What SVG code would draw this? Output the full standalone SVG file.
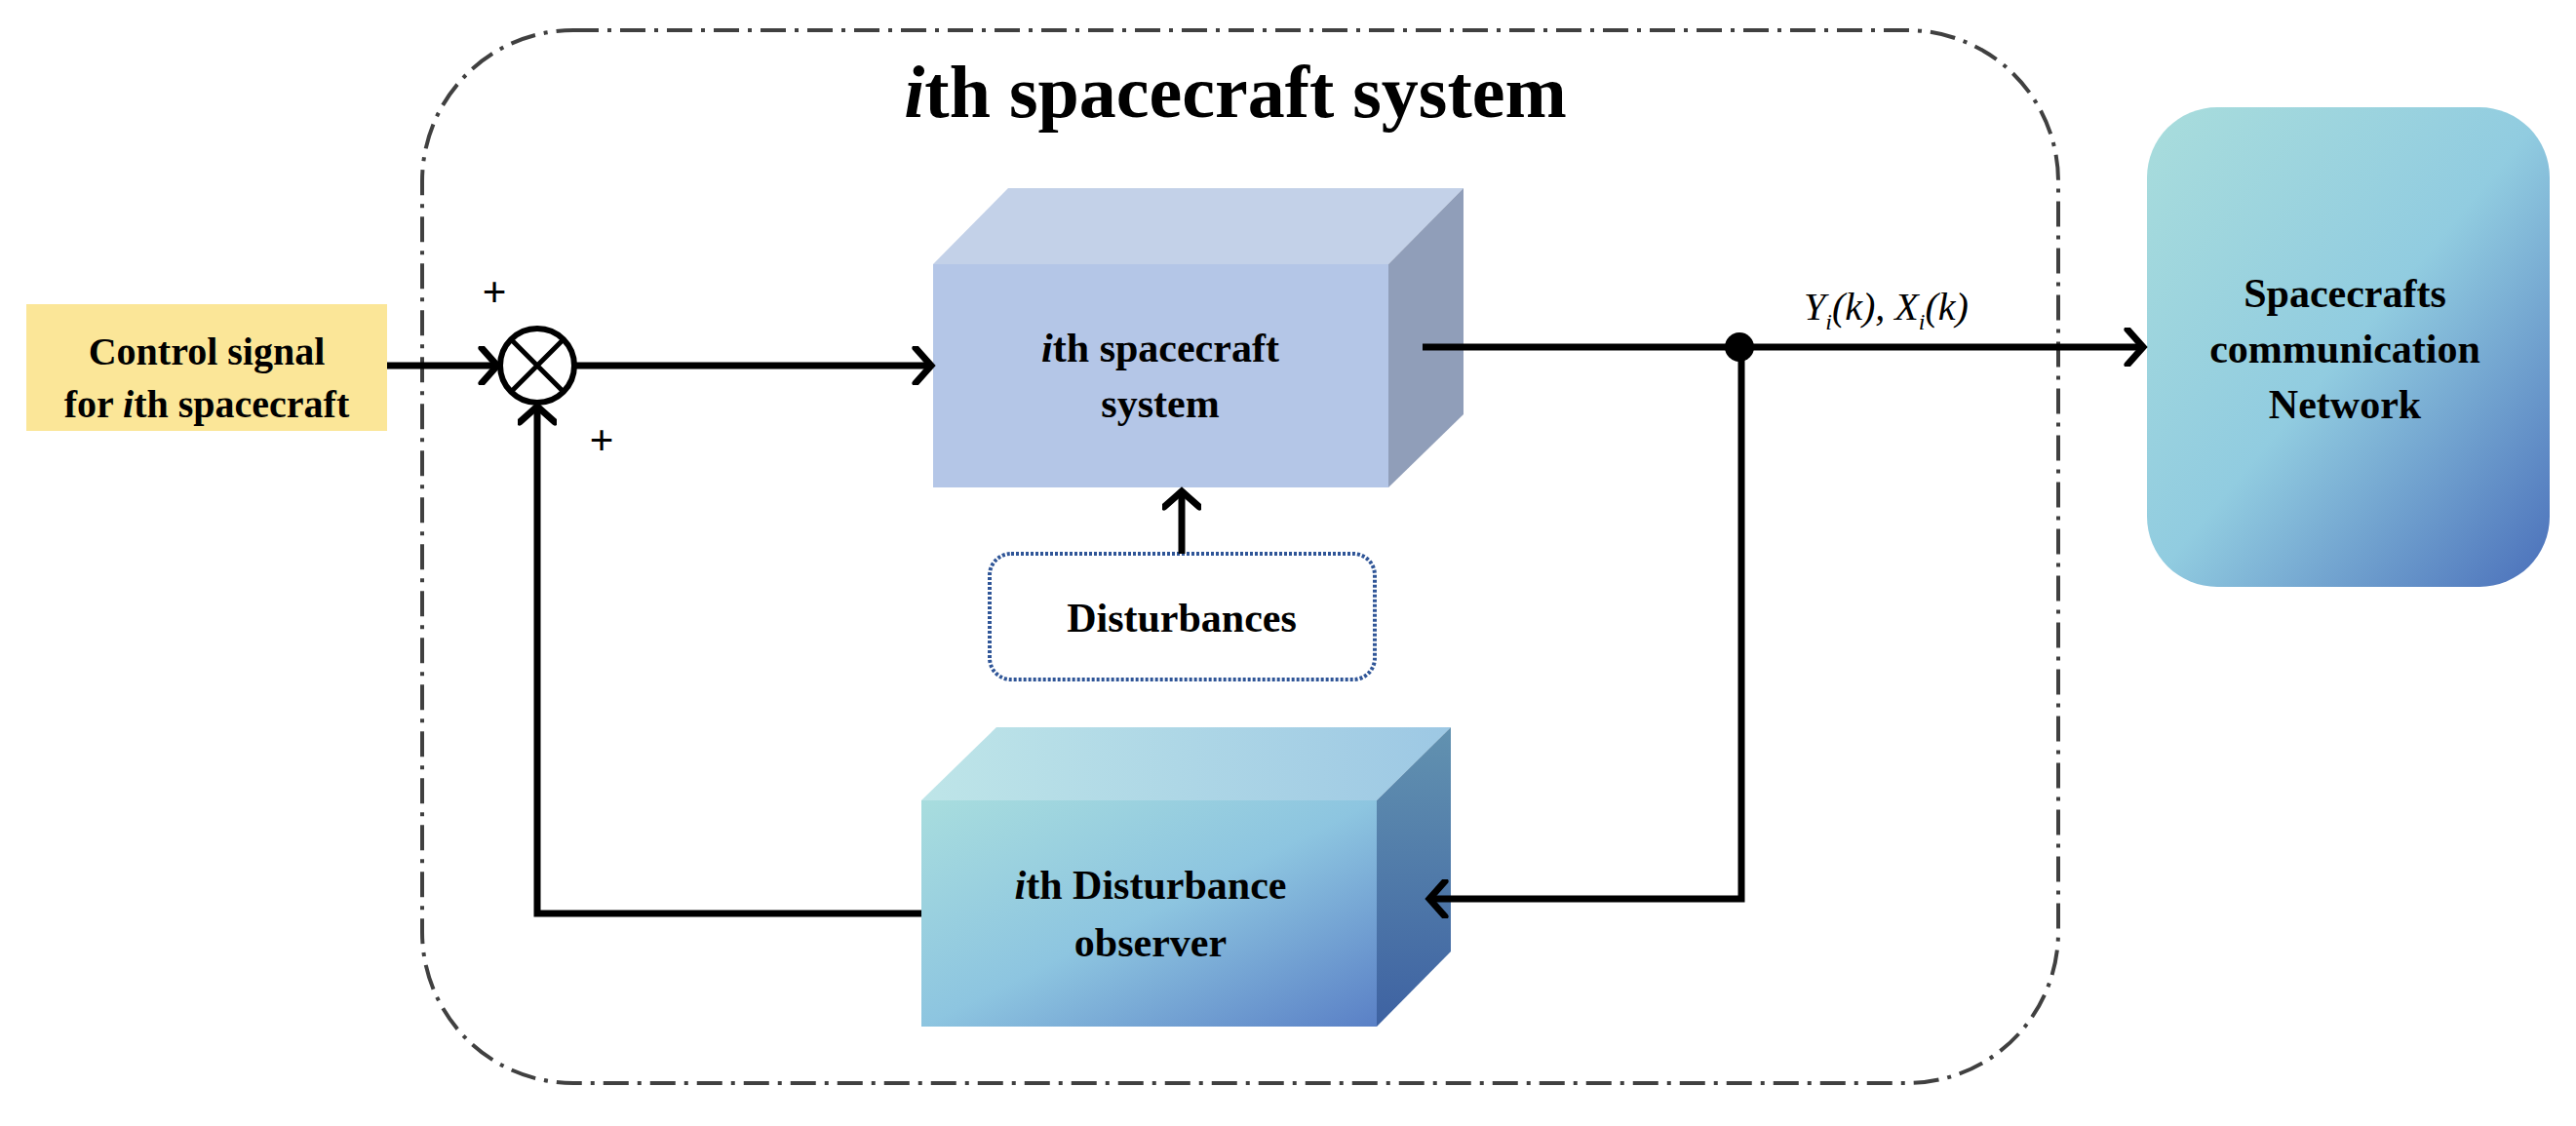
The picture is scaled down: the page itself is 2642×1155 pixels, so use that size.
<svg xmlns="http://www.w3.org/2000/svg" width="2642" height="1155" viewBox="0 0 2642 1155">
<style>
.t{font-family:"Liberation Serif","Times New Roman",serif;font-weight:bold;fill:#000;text-anchor:middle}
.ln{fill:none;stroke:#000;stroke-width:7}
</style>
<defs>
<marker id="ah" markerUnits="userSpaceOnUse" markerWidth="40" markerHeight="40" viewBox="-30 -20 40 40" refX="0" refY="0" orient="auto">
<path d="M-16,-18 L0,0 L-16,18" fill="none" stroke="#000" stroke-width="7" stroke-linecap="round"/>
</marker>
<linearGradient id="gNet" x1="0" y1="0" x2="1" y2="1">
<stop offset="0" stop-color="#A9DDDC"/><stop offset="0.5" stop-color="#91CCE0"/><stop offset="1" stop-color="#4A6FBA"/>
</linearGradient>
<linearGradient id="gObsF" x1="0" y1="0" x2="1" y2="1">
<stop offset="0" stop-color="#A8DDDE"/><stop offset="0.5" stop-color="#8DC5E0"/><stop offset="1" stop-color="#5A80C6"/>
</linearGradient>
<linearGradient id="gObsT" x1="0" y1="0" x2="1" y2="0">
<stop offset="0" stop-color="#BEE5E8"/><stop offset="1" stop-color="#9DC8E4"/>
</linearGradient>
<linearGradient id="gObsS" x1="0" y1="0" x2="0" y2="1">
<stop offset="0" stop-color="#6292B0"/><stop offset="1" stop-color="#3E62A2"/>
</linearGradient>
</defs>

<g id="boundary">
<rect x="433" y="31" width="1678" height="1080" rx="155" ry="155" fill="none" stroke="#404040" stroke-width="4" stroke-dasharray="26 9 4 9"/>
<text class="t" x="1267" y="120" font-size="76"><tspan font-style="italic">i</tspan>th spacecraft system</text>
</g>

<g id="control">
<rect x="27" y="312" width="370" height="130" fill="#FBE698"/>
<text class="t" x="212" y="374" font-size="40">Control signal</text>
<text class="t" x="212" y="428" font-size="40">for <tspan font-style="italic">i</tspan>th spacecraft</text>
</g>

<g id="sum">
<circle cx="551" cy="375" r="38" fill="#fff" stroke="#000" stroke-width="6"/>
<path d="M524,348 L578,402 M578,348 L524,402" stroke="#000" stroke-width="5"/>
<text class="t" x="507" y="314" font-size="44" font-family="Liberation Sans,sans-serif">+</text>
<text class="t" x="617" y="466" font-size="44" font-family="Liberation Sans,sans-serif">+</text>
</g>

<g id="plant">
<polygon points="957,271 1034,193 1501,193 1424,271" fill="#C3D1E8"/>
<polygon points="1424,271 1501,193 1501,425 1424,500" fill="#909EB9"/>
<rect x="957" y="271" width="467" height="229" fill="#B4C6E7"/>
<text class="t" x="1190" y="371" font-size="42"><tspan font-style="italic">i</tspan>th spacecraft</text>
<text class="t" x="1190" y="428" font-size="42">system</text>
</g>

<g id="disturbances">
<rect x="1015" y="568" width="395" height="129" rx="22" ry="22" fill="#fff" stroke="#2F5597" stroke-width="4" stroke-dasharray="3 2"/>
<text class="t" x="1212" y="648" font-size="42">Disturbances</text>
</g>

<g id="observer">
<polygon points="945,821 1022,746 1488,746 1412,821" fill="url(#gObsT)"/>
<polygon points="1412,821 1488,746 1488,976 1412,1053" fill="url(#gObsS)"/>
<rect x="945" y="821" width="467" height="232" fill="url(#gObsF)"/>
<text class="t" x="1180" y="922" font-size="42"><tspan font-style="italic">i</tspan>th Disturbance</text>
<text class="t" x="1180" y="981" font-size="42">observer</text>
</g>

<g id="network">
<rect x="2202" y="110" width="413" height="492" rx="72" ry="72" fill="url(#gNet)"/>
<text class="t" x="2405" y="315" font-size="42">Spacecrafts</text>
<text class="t" x="2405" y="372" font-size="42">communication</text>
<text class="t" x="2405" y="429" font-size="42">Network</text>
</g>

<g id="connectors">
<path class="ln" d="M397,375 L510,375" marker-end="url(#ah)"/>
<path class="ln" d="M589,375 L955,375" marker-end="url(#ah)"/>
<path class="ln" d="M1459,356 L2198,356" marker-end="url(#ah)"/>
<circle cx="1784" cy="356" r="15" fill="#000"/>
<path class="ln" d="M1786,356 L1786,922 L1466,922" marker-end="url(#ah)"/>
<path class="ln" d="M945,937 L551,937 L551,417" marker-end="url(#ah)"/>
<path class="ln" d="M1212,568 L1212,504" marker-end="url(#ah)"/>
<text x="1850" y="328" font-family="Liberation Serif,serif" font-style="italic" font-size="40">Y<tspan font-size="24" dy="10">i</tspan><tspan dy="-10">(k), X</tspan><tspan font-size="24" dy="10">i</tspan><tspan dy="-10">(k)</tspan></text>
</g>
</svg>
